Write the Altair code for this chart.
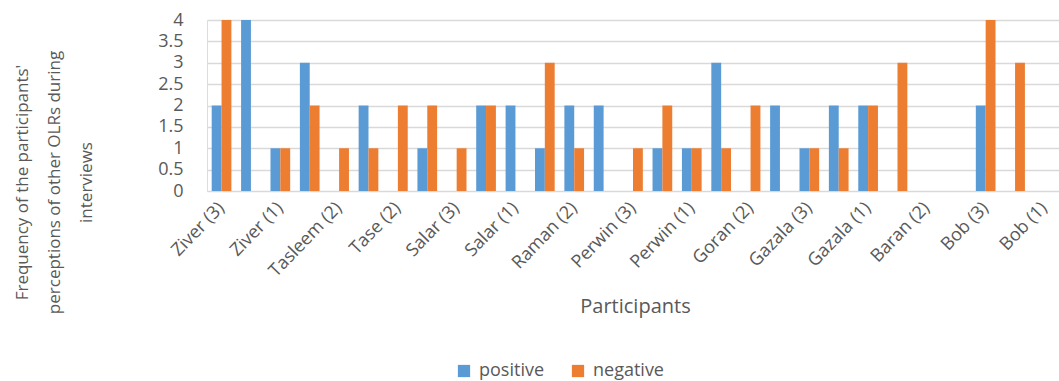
import altair as alt
import pandas as pd

participants = [
    "Ziver (3)", "Ziver (2)", "Ziver (1)", "Tasleem (3)", "Tasleem (2)", "Tasleem (1)",
    "Tase (2)", "Tase (1)", "Salar (3)", "Salar (2)", "Salar (1)", "Raman (3)",
    "Raman (2)", "Raman (1)", "Perwin (3)", "Perwin (2)", "Perwin (1)", "Goran (3)",
    "Goran (2)", "Goran (1)", "Gazala (3)", "Gazala (2)", "Gazala (1)", "Baran (3)",
    "Baran (2)", "Baran (1)", "Bob (3)", "Bob (2)", "Bob (1)",
]
positive = [2, 4, 1, 3, 0, 2, 0, 1, 0, 2, 2, 1, 2, 2, 0, 1, 1, 3, 0, 2, 1, 2, 2, 0, 0, 0, 2, 0, 0]
negative = [4, 0, 1, 2, 1, 1, 2, 2, 1, 2, 0, 3, 1, 0, 1, 2, 1, 1, 2, 0, 1, 1, 2, 3, 0, 0, 4, 3, 0]
shown_labels = participants[::2]
series = ["positive", "negative"]
colors = ["#5B9BD5", "#ED7D31"]

rows = []
for p, pv, nv in zip(participants, positive, negative):
    rows.append({"participant": p, "series": "positive", "value": pv})
    rows.append({"participant": p, "series": "negative", "value": nv})
df = pd.DataFrame(rows)

FONT = "Open Sans"
GRAY = "#595959"

chart = alt.Chart(df).mark_bar().encode(
    x=alt.X(
        "participant:N",
        sort=participants,
        scale=alt.Scale(paddingInner=0.33, paddingOuter=0.16),
        axis=alt.Axis(
            values=shown_labels,
            title="Participants",
            titleFontSize=20,
            titleFontWeight="normal",
            titleColor=GRAY,
            titleFont=FONT,
            titleX=428,
            titleY=105,
            titleBaseline="top",
            labelAngle=-46,
            labelAlign="right",
            labelBaseline="middle",
            labelPadding=14,
            labelFontSize=18,
            labelColor=GRAY,
            labelFont=FONT,
            ticks=False,
            domain=False,
            grid=False,
        ),
    ),
    xOffset=alt.XOffset("series:N", sort=series, scale=alt.Scale(paddingInner=0)),
    y=alt.Y(
        "value:Q",
        scale=alt.Scale(domain=[0, 4], nice=False),
        axis=alt.Axis(
            values=[0, 0.5, 1, 1.5, 2, 2.5, 3, 3.5, 4],
            format=".1~f",
            title=["Frequency of the participants'", "perceptions of other OLRs during", "interviews"],
            titleFontSize=17,
            titleFontWeight="normal",
            titleColor=GRAY,
            titleFont=FONT,
            titleAngle=-90,
            titleLineHeight=32,
            titleX=-193,
            titleY=162,
            titleAlign="center",
            titleBaseline="top",
            labelFontSize=18,
            labelColor=GRAY,
            labelFont=FONT,
            labelPadding=24,
            ticks=False,
            domain=False,
            gridColor="#d9d9d9",
            gridWidth=1.5,
        ),
    ),
    color=alt.Color(
        "series:N",
        sort=series,
        scale=alt.Scale(domain=series, range=colors),
        legend=alt.Legend(
            title=None,
            orient="none",
            legendX=248,
            legendY=342,
            direction="horizontal",
            symbolType="square",
            symbolSize=150,
            symbolStrokeWidth=0,
            labelFontSize=18,
            labelFont=FONT,
            labelColor=GRAY,
            columnPadding=24,
            labelOffset=6,
        ),
    ),
).properties(
    width=852,
    height=171,
    autosize=alt.AutoSizeParams(type="none"),
    padding={"left": 207, "top": 20, "right": 0, "bottom": 190},
).configure_view(stroke=None).configure(background="white")

chart.save("out.html", embed_options={"renderer": "svg", "actions": False})
